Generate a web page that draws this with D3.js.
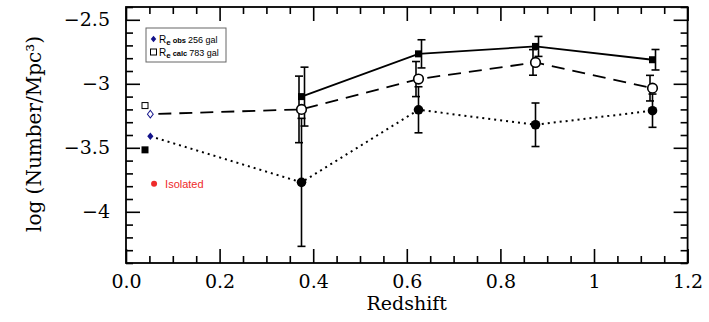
<!DOCTYPE html>
<html lang="en">

<head>
	<meta charset="utf-8">
	<title>number density vs redshift</title>
	<style>
		body { margin: 0; background: #fff; }
		svg { display: block; }
	</style>
</head>

<body>
	<script src="https://cdn.jsdelivr.net/npm/d3@7"></script>
	<script>

		// redshift bins
		const redshift = [0.375, 0.625, 0.875, 1.125];

		// filled squares, solid line
		const calcAll = [-3.10, -2.766, -2.708, -2.812];
		const calcAllErr = [0.23, 0.11, 0.078, 0.08];

		// open circles, dashed line
		const obsAll = [-3.20, -2.963, -2.833, -3.034];
		const obsAllErr = [0.26, 0.137, 0.10, 0.10];

		// filled circles, dotted line
		const obsSub = [-3.77, -3.203, -3.32, -3.21];
		const obsSubErr = [0.50, 0.18, 0.17, 0.13];

		// local points (z ~ 0.05)
		const localZ = [0.0406, 0.052, 0.052, 0.0406, 0.06];
		const localVal = [-3.17, -3.237, -3.41, -3.516, -3.78];
		const localKind = ["openSquare", "openDiamond", "diamond", "square", "isolated"];

		const xMajor = [0, 0.2, 0.4, 0.6, 0.8, 1.0, 1.2];
		const xTickLabels = ["0.0", "0.2", "0.4", "0.6", "0.8", "1", "1.2"];
		const yMajor = [-2.5, -3, -3.5, -4];
		const yTickLabels = ["\u22122.5", "\u22123", "\u22123.5", "\u22124"];

		const width = 709;
		const height = 322;
		const blue = "#12128a";
		const red = "#ee2a2a";
		const serif = "'DejaVu Serif', serif";

		const x = d3.scaleLinear().domain([0, 1.2]).range([126, 687.6]);
		const y = d3.scaleLinear().domain([-4.4, -2.4]).range([263, 7]);

		const xMinor = d3.range(0, 1.2001, 0.05).filter((v) => {
			return !xMajor.some((m) => Math.abs(m - v) < 1e-6);
		});
		const yMinor = d3.range(-4.4, -2.3999, 0.1).filter((v) => {
			return !yMajor.some((m) => Math.abs(m - v) < 1e-6);
		});

		const svg = d3.select("body")
			.append("svg")
			.attr("width", width)
			.attr("height", height)
			.attr("viewBox", [0, 0, width, height]);

		// axes: ticks point inward on all four sides
		function drawAxis(axis, tx, ty, withLabels) {
			const g = svg.append("g")
				.attr("transform", `translate(${tx},${ty})`)
				.call(axis);
			g.select(".domain").remove();
			g.selectAll(".tick line").attr("stroke", "#000").attr("stroke-width", 1.6);
			if (!withLabels) {
				g.selectAll(".tick text").remove();
			} else {
				g.selectAll(".tick text")
					.attr("fill", "#000")
					.attr("font-family", serif)
					.attr("font-size", 19);
			}
			return g;
		}

		drawAxis(d3.axisBottom(x).tickValues(xMajor).tickSize(-14).tickPadding(12)
			.tickFormat((d, i) => xTickLabels[i]), 0, y.range()[0], true);
		drawAxis(d3.axisBottom(x).tickValues(xMinor).tickSize(-7), 0, y.range()[0], false);
		drawAxis(d3.axisTop(x).tickValues(xMajor).tickSize(-14), 0, y.range()[1], false);
		drawAxis(d3.axisTop(x).tickValues(xMinor).tickSize(-7), 0, y.range()[1], false);

		drawAxis(d3.axisLeft(y).tickValues(yMajor).tickSize(-14).tickPadding(16)
			.tickFormat((d, i) => yTickLabels[i]), x.range()[0], 0, true);
		drawAxis(d3.axisLeft(y).tickValues(yMinor).tickSize(-7), x.range()[0], 0, false);
		drawAxis(d3.axisRight(y).tickValues(yMajor).tickSize(-14), x.range()[1], 0, false);
		drawAxis(d3.axisRight(y).tickValues(yMinor).tickSize(-7), x.range()[1], 0, false);

		svg.append("rect")
			.attr("x", x.range()[0])
			.attr("y", y.range()[1])
			.attr("width", x.range()[1] - x.range()[0])
			.attr("height", y.range()[0] - y.range()[1])
			.attr("fill", "none")
			.attr("stroke", "#000")
			.attr("stroke-width", 1.8);

		// axis titles
		svg.append("text")
			.attr("x", (x.range()[0] + x.range()[1]) / 2)
			.attr("y", 310)
			.attr("text-anchor", "middle")
			.attr("font-family", serif)
			.attr("font-size", 19)
			.text("Redshift");

		svg.append("text")
			.attr("transform", "translate(41,134) rotate(-90)")
			.attr("text-anchor", "middle")
			.attr("font-family", serif)
			.attr("font-size", 20)
			.text("log (Number/Mpc\u00b3)");

		// series
		const series = [
			{ val: calcAll, err: calcAllErr, dash: null, marker: "square", off: 3, start: null },
			{ val: obsAll, err: obsAllErr, dash: "13,8", marker: "openCircle", off: -2.5, start: 1 },
			{ val: obsSub, err: obsSubErr, dash: "2,4", marker: "circle", off: 0, start: 2 }
		];

		const line = d3.line()
			.x((d) => x(d[0]))
			.y((d) => y(d[1]));

		series.forEach((s) => {
			let pts = redshift.map((z, i) => [z, s.val[i]]);
			if (s.start !== null) {
				pts = [[localZ[s.start], localVal[s.start]]].concat(pts);
			}
			svg.append("path")
				.attr("d", line(pts))
				.attr("fill", "none")
				.attr("stroke", "#000")
				.attr("stroke-width", s.dash === "2,4" ? 2 : 1.8)
				.attr("stroke-dasharray", s.dash)
				.attr("stroke-dashoffset", s.dash === "13,8" ? 13 : null);
		});

		// error bars
		series.forEach((s) => {
			const g = svg.append("g")
				.attr("stroke", "#000")
				.attr("stroke-width", 1.6);
			redshift.forEach((z, i) => {
				const cx = x(z) + s.off;
				const y0 = y(s.val[i] - s.err[i]);
				const y1 = y(s.val[i] + s.err[i]);
				g.append("line").attr("x1", cx).attr("x2", cx).attr("y1", y0).attr("y2", y1);
				g.append("line").attr("x1", cx - 4).attr("x2", cx + 4).attr("y1", y0).attr("y2", y0);
				g.append("line").attr("x1", cx - 4).attr("x2", cx + 4).attr("y1", y1).attr("y2", y1);
			});
		});

		// markers
		series.forEach((s) => {
			redshift.forEach((z, i) => {
				const cx = x(z);
				const cy = y(s.val[i]);
				if (s.marker === "square") {
					svg.append("rect")
						.attr("x", cx - 3.5).attr("y", cy - 3.5)
						.attr("width", 7).attr("height", 7)
						.attr("fill", "#000");
				} else if (s.marker === "openCircle") {
					svg.append("circle")
						.attr("cx", cx).attr("cy", cy).attr("r", 4.8)
						.attr("fill", "#fff").attr("stroke", "#000").attr("stroke-width", 1.6);
				} else {
					svg.append("circle")
						.attr("cx", cx).attr("cy", cy).attr("r", 4.8)
						.attr("fill", "#000");
				}
			});
		});

		// local points
		const diamond = d3.symbol().type(d3.symbolDiamond2).size(30);
		localKind.forEach((k, i) => {
			const cx = x(localZ[i]);
			const cy = y(localVal[i]);
			if (k === "openSquare") {
				svg.append("rect")
					.attr("x", cx - 3).attr("y", cy - 3).attr("width", 6).attr("height", 6)
					.attr("fill", "#fff").attr("stroke", "#000").attr("stroke-width", 1);
			} else if (k === "square") {
				svg.append("rect")
					.attr("x", cx - 3.5).attr("y", cy - 3.5).attr("width", 7).attr("height", 7)
					.attr("fill", "#000");
			} else if (k === "openDiamond") {
				svg.append("path")
					.attr("d", diamond())
					.attr("transform", `translate(${cx},${cy}) scale(0.85,1.1)`)
					.attr("fill", "#fff").attr("stroke", blue).attr("stroke-width", 1);
			} else if (k === "diamond") {
				svg.append("path")
					.attr("d", diamond())
					.attr("transform", `translate(${cx},${cy}) scale(0.9,1.1)`)
					.attr("fill", blue);
			} else {
				svg.append("circle")
					.attr("cx", cx).attr("cy", cy).attr("r", 3)
					.attr("fill", red);
				svg.append("text")
					.attr("x", cx + 11).attr("y", cy + 4)
					.attr("font-family", "'Liberation Sans', Arial, sans-serif")
					.attr("font-size", 11)
					.attr("fill", red)
					.text("Isolated");
			}
		});

		// legend
		const legend = svg.append("g").attr("transform", "translate(146,28)");
		legend.append("rect")
			.attr("width", 80).attr("height", 34)
			.attr("fill", "#fff").attr("stroke", "#666").attr("stroke-width", 1);

		const legendRows = [
			{ word: "obs", count: "256 gal", marker: "diamond" },
			{ word: "calc", count: "783 gal", marker: "openSquare" }
		];
		legendRows.forEach((r, i) => {
			const cy = 11 + i * 13;
			if (r.marker === "diamond") {
				legend.append("path")
					.attr("d", diamond())
					.attr("transform", `translate(7.5,${cy}) scale(0.8,0.95)`)
					.attr("fill", blue);
			} else {
				legend.append("rect")
					.attr("x", 4.5).attr("y", cy - 3).attr("width", 6).attr("height", 6)
					.attr("fill", "#fff").attr("stroke", "#000").attr("stroke-width", 1);
			}
			const t = legend.append("text")
				.attr("x", 13).attr("y", cy + 3.5)
				.attr("font-family", "'Liberation Sans', Arial, sans-serif")
				.attr("font-size", 10)
				.attr("fill", "#000");
			t.append("tspan").text("R");
			t.append("tspan").attr("dy", 2.5).attr("font-size", 8).attr("font-weight", "bold").text("e");
			t.append("tspan").attr("dy", -2.5).attr("dx", 2).attr("font-size", 7.5).attr("font-weight", "bold").text(r.word);
			t.append("tspan").attr("dx", 2).attr("font-size", 9).text(r.count);
		});

	</script>
</body>

</html>
